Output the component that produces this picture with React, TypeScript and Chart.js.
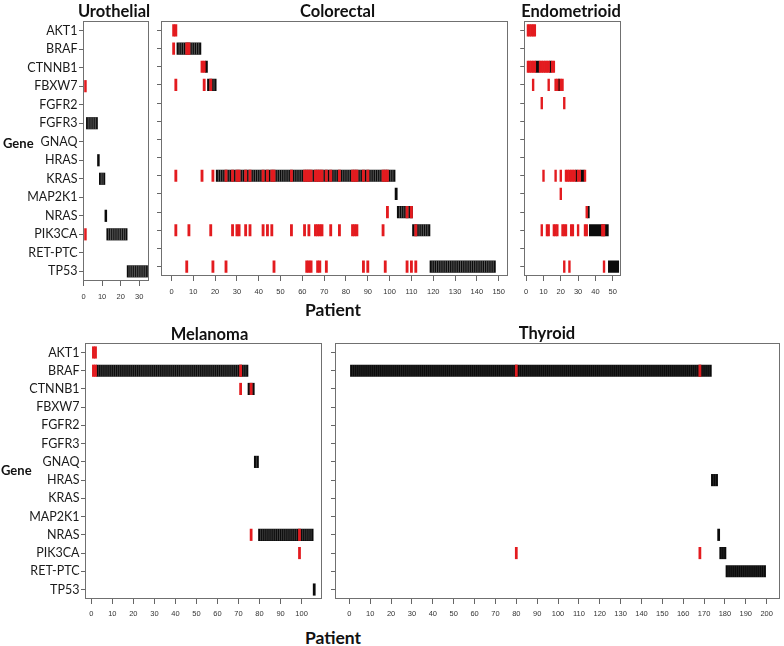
import React, { useEffect, useRef } from "react";
import { Chart, registerables } from "chart.js";

Chart.register(...registerables);

// ---------- data ----------
const GENES = ["AKT1", "BRAF", "CTNNB1", "FBXW7", "FGFR2", "FGFR3", "GNAQ", "HRAS", "KRAS", "MAP2K1", "NRAS", "PIK3CA", "RET-PTC", "TP53"];

// black runs: [gene, first patient, last patient] ; red marks: [gene, patients]
type Run = [string, number, number];
type Marks = [string, number[]];

const URO_TICKS = [0, 10, 20, 30];
const URO_BLACK: Run[] = [["FGFR3", 2, 7], ["HRAS", 8, 8], ["KRAS", 9, 11], ["NRAS", 12, 12], ["PIK3CA", 13, 23], ["TP53", 24, 34]];
const URO_RED: Marks[] = [["FBXW7", [1]], ["PIK3CA", [1]]];

const CRC_TICKS = [0, 10, 20, 30, 40, 50, 60, 70, 80, 90, 100, 110, 120, 130, 140, 150];
const CRC_BLACK: Run[] = [["BRAF", 3, 13], ["CTNNB1", 16, 16], ["FBXW7", 17, 20], ["KRAS", 21, 102], ["MAP2K1", 103, 103], ["NRAS", 104, 110], ["PIK3CA", 111, 118], ["TP53", 119, 148]];
const CRC_RED: Marks[] = [
  ["AKT1", [1, 2]],
  ["BRAF", [1, 7, 8]],
  ["CTNNB1", [14, 15]],
  ["FBXW7", [2, 15, 18]],
  ["KRAS", [2, 14, 19, 25, 28, 30, 31, 34, 36, 42, 44, 46, 47, 55, 61, 62, 63, 64, 66, 67, 68, 69, 71, 73, 77, 83, 84, 85, 88, 90, 97, 98, 99]],
  ["NRAS", [99, 108, 110]],
  ["PIK3CA", [2, 8, 18, 28, 30, 31, 34, 36, 42, 44, 46, 55, 61, 63, 66, 67, 68, 69, 73, 77, 83, 84, 85, 97, 112]],
  ["TP53", [7, 19, 25, 47, 62, 63, 64, 67, 68, 71, 88, 90, 98, 108, 110, 112]],
];

const END_TICKS = [0, 10, 20, 30, 40, 50];
const END_BLACK: Run[] = [["CTNNB1", 6, 7], ["CTNNB1", 14, 14], ["FBXW7", 19, 19], ["KRAS", 29, 29], ["KRAS", 32, 33], ["NRAS", 36, 36], ["PIK3CA", 37, 47], ["TP53", 48, 53]];
const END_RED: Marks[] = [
  ["AKT1", [1, 2, 3, 4, 5]],
  ["CTNNB1", [1, 2, 3, 4, 5, 8, 9, 10, 11, 12, 13, 15, 16]],
  ["FBXW7", [4, 13, 17, 18, 20, 21]],
  ["FGFR2", [9, 22]],
  ["KRAS", [10, 17, 20, 23, 24, 25, 26, 27, 28, 30, 31, 34]],
  ["MAP2K1", [20]],
  ["NRAS", [35]],
  ["PIK3CA", [9, 12, 13, 16, 17, 18, 21, 22, 23, 26, 27, 30, 34, 35, 44, 45]],
  ["TP53", [22, 25, 45]],
];

const MEL_TICKS = [0, 10, 20, 30, 40, 50, 60, 70, 80, 90, 100];
const MEL_BLACK: Run[] = [["BRAF", 3, 74], ["CTNNB1", 75, 77], ["GNAQ", 78, 79], ["NRAS", 80, 105], ["TP53", 106, 106]];
const MEL_RED: Marks[] = [["AKT1", [1, 2]], ["BRAF", [1, 2, 71]], ["CTNNB1", [71, 76]], ["NRAS", [76, 99]], ["PIK3CA", [99]]];

const THY_TICKS = [0, 10, 20, 30, 40, 50, 60, 70, 80, 90, 100, 110, 120, 130, 140, 150, 160, 170, 180, 190, 200];
const THY_BLACK: Run[] = [["BRAF", 1, 173], ["HRAS", 174, 176], ["NRAS", 177, 177], ["PIK3CA", 178, 180], ["RET-PTC", 181, 199]];
const THY_RED: Marks[] = [["BRAF", [80, 168]], ["PIK3CA", [80, 168]]];

// ---------- styling ----------
const RED = "#e31b1f";
const BLACK = "#0b0b0b";
const FRAME = "#707070";

type Box = { l: number; t: number; r: number; b: number };
type Spec = {
  id: string;
  box: Box;
  xMin: number;
  xMax: number;
  ticks: number[];
  black: Run[];
  red: Marks[];
  labels: boolean;
  tickPad: number;
  stripe: number;
};

const PANELS: Spec[] = [
  { id: "uro", box: { l: 83, t: 21, r: 149, b: 281 }, xMin: -0.32, xMax: 35.3, ticks: URO_TICKS, black: URO_BLACK, red: URO_RED, labels: true, tickPad: 6, stripe: 0.45 },
  { id: "crc", box: { l: 161, t: 21, r: 509, b: 276 }, xMin: -4.8, xMax: 154.4, ticks: CRC_TICKS, black: CRC_BLACK, red: CRC_RED, labels: false, tickPad: 6, stripe: 0.45 },
  { id: "end", box: { l: 524, t: 21, r: 621, b: 276 }, xMin: -1.15, xMax: 54.8, ticks: END_TICKS, black: END_BLACK, red: END_RED, labels: false, tickPad: 6, stripe: 0 },
  { id: "mel", box: { l: 85, t: 343, r: 322, b: 599 }, xMin: -3.0, xMax: 109.7, ticks: MEL_TICKS, black: MEL_BLACK, red: MEL_RED, labels: true, tickPad: 5, stripe: 0.3 },
  { id: "thy", box: { l: 335, t: 343, r: 780, b: 599 }, xMin: -6.9, xMax: 206.4, ticks: THY_TICKS, black: THY_BLACK, red: THY_RED, labels: false, tickPad: 5, stripe: 0.15 },
];

const BAR_H = 11.5;

const framePlugin = {
  id: "frame",
  afterDatasetDraw(chart: any, args: any) {
    // faint separators between adjacent patients inside black runs (drawn before red marks)
    if (args.index !== 1) return;
    const spec: Spec = chart.options.plugins.frame.spec;
    if (!spec.stripe) return;
    const { ctx } = chart;
    const xs = chart.scales.x;
    const ys = chart.scales.y;
    ctx.save();
    ctx.strokeStyle = `rgba(255,255,255,${spec.stripe})`;
    ctx.lineWidth = 0.7;
    ctx.beginPath();
    spec.black.forEach(([g, a, b]) => {
      const yc = ys.getPixelForValue(GENES.indexOf(g));
      for (let k = a; k < b; k++) {
        const px = xs.getPixelForValue(k + 0.5);
        ctx.moveTo(px, yc - BAR_H / 2);
        ctx.lineTo(px, yc + BAR_H / 2);
      }
    });
    ctx.stroke();
    ctx.restore();
  },
  afterDraw(chart: any) {
    const { ctx, chartArea: a } = chart;
    ctx.save();
    ctx.strokeStyle = FRAME;
    ctx.lineWidth = 1;
    ctx.strokeRect(Math.round(a.left) + 0.5, Math.round(a.top) + 0.5, Math.round(a.right - a.left) - 1, Math.round(a.bottom - a.top) - 1);
    ctx.restore();
  },
};

function Panel({ spec }: { spec: Spec }) {
  const ref = useRef<HTMLCanvasElement>(null);
  const { box } = spec;
  const yw = spec.labels ? box.l : 6;
  const pt = 10;
  const pr = 2;
  const xh = 26;
  const W = box.r - box.l + yw + pr;
  const H = box.b - box.t + pt + xh;

  useEffect(() => {
    const redData: any[] = spec.red.flatMap(([g, ps]) => ps.map((p) => ({ x: [p - 0.5, p + 0.5], y: GENES.indexOf(g) })));
    const blackData: any[] = spec.black.map(([g, a, b]) => ({ x: [a - 0.5, b + 0.5], y: GENES.indexOf(g) }));
    const chart = new Chart(ref.current as HTMLCanvasElement, {
      type: "bar",
      data: {
        datasets: [
          { label: "multiple", data: redData, backgroundColor: RED, borderWidth: 0, barThickness: BAR_H, grouped: false } as any,
          { label: "single", data: blackData, backgroundColor: BLACK, borderWidth: 0, barThickness: BAR_H, grouped: false } as any,
        ],
      },
      options: {
        indexAxis: "y",
        responsive: false,
        animation: false,
        events: [],
        layout: { padding: { top: pt, right: pr, left: 0, bottom: 0 } },
        plugins: { legend: { display: false }, tooltip: { enabled: false }, title: { display: false }, frame: { spec } },
        scales: {
          x: {
            type: "linear",
            position: "bottom",
            min: spec.xMin,
            max: spec.xMax,
            offset: false,
            grid: { drawOnChartArea: false, drawTicks: true, tickLength: 5, color: "#666", offset: false },
            border: { display: false },
            ticks: { autoSkip: false, maxRotation: 0, padding: spec.tickPad, color: "#333", font: { family: "'Liberation Sans', Arial, sans-serif", size: 7.5 } },
            afterBuildTicks: (s: any) => {
              s.ticks = spec.ticks.map((v) => ({ value: v }));
            },
            afterFit: (s: any) => {
              s.height = xh;
            },
          },
          y: {
            type: "linear",
            position: "left",
            min: -0.52,
            max: 13.52,
            reverse: true,
            offset: false,
            grid: { drawOnChartArea: false, drawTicks: true, tickLength: 4, color: "#666", offset: false },
            border: { display: false },
            ticks: {
              display: spec.labels,
              autoSkip: false,
              padding: 1.5,
              color: "#1a1a1a",
              font: { family: "Lato, 'Open Sans', sans-serif", size: 12.5 },
              callback: (v: any) => GENES[v as number],
            },
            afterBuildTicks: (s: any) => {
              s.ticks = GENES.map((_, i) => ({ value: i }));
            },
            afterFit: (s: any) => {
              s.width = yw;
            },
          },
        },
      } as any,
      plugins: [framePlugin],
    });
    return () => chart.destroy();
  }, []);

  return (
    <canvas
      ref={ref}
      width={W}
      height={H}
      style={{ position: "absolute", left: box.l - yw, top: box.t - pt, width: W, height: H }}
    />
  );
}

function Text({ text, x, y, size, center = true }: { text: string; x: number; y: number; size: number; center?: boolean }) {
  return (
    <div
      style={{
        position: "absolute",
        left: x,
        top: y,
        transform: center ? "translate(-50%, -50%)" : "translate(0, -50%)",
        fontFamily: "Lato, 'Open Sans', sans-serif",
        fontWeight: 700,
        fontSize: size,
        lineHeight: 1,
        whiteSpace: "nowrap",
        color: "#111",
      }}
    >
      {text}
    </div>
  );
}

export default function App() {
  return (
    <div style={{ position: "absolute", left: 0, top: 0, width: 784, height: 646, background: "#fff", overflow: "hidden" }}>
      {PANELS.map((p) => (
        <Panel key={p.id} spec={p} />
      ))}
      <Text text="Urothelial" x={114} y={11} size={16.5} />
      <Text text="Colorectal" x={337.5} y={11} size={16.5} />
      <Text text="Endometrioid" x={571} y={11} size={16.5} />
      <Text text="Melanoma" x={209.5} y={334} size={16.5} />
      <Text text="Thyroid" x={547} y={333} size={16.5} />
      <Text text="Gene" x={3} y={143} size={13} center={false} />
      <Text text="Gene" x={1} y={470} size={13} center={false} />
      <Text text="Patient" x={333} y={310} size={17.5} />
      <Text text="Patient" x={333} y={638} size={17.5} />
    </div>
  );
}
